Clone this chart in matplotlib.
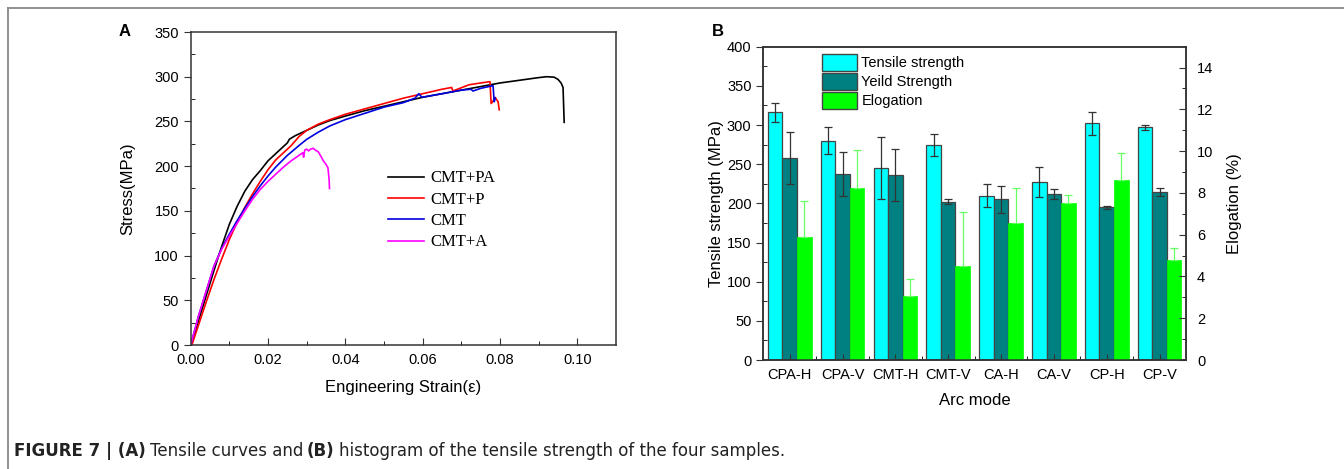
import matplotlib
matplotlib.use('Agg')
import matplotlib.pyplot as plt
from matplotlib.lines import Line2D
from matplotlib.patches import Patch
import numpy as np

plt.rcParams['font.family'] = ['Liberation Sans', 'DejaVu Sans']

# (A) tensile curves
pa_x = [0.0, 0.002, 0.004, 0.006, 0.008, 0.010, 0.012, 0.014, 0.016, 0.018, 0.020, 0.022, 0.024,
        0.025, 0.0255, 0.027, 0.030, 0.033, 0.036, 0.040, 0.045, 0.050, 0.055, 0.060, 0.065,
        0.070, 0.075, 0.080, 0.085, 0.090, 0.092, 0.094, 0.095, 0.0958, 0.0963, 0.0966]
pa_y = [0, 27, 55, 83, 110, 135, 155, 172, 185, 195, 206, 214, 222,
        226, 230, 234, 240, 246, 251, 256, 262, 267, 272, 277, 281,
        285, 289, 293, 296, 299, 300, 299.5, 297, 293, 288, 249]
p_x = [0.0003, 0.002, 0.004, 0.006, 0.008, 0.010, 0.012, 0.014, 0.016, 0.018, 0.020, 0.022, 0.024,
       0.026, 0.028, 0.030, 0.033, 0.036, 0.040, 0.045, 0.050, 0.055, 0.060, 0.065, 0.0675,
       0.0678, 0.069, 0.072, 0.075, 0.0774, 0.0777, 0.0781, 0.0787, 0.0795, 0.0798]
p_y = [0, 22, 48, 73, 96, 118, 137, 154, 169, 183, 196, 207, 215,
       223, 233, 240, 247, 252, 258, 264, 270, 276, 281, 286, 288,
       284, 286, 291, 293, 294.5, 270, 272, 277, 272, 263]
c_x = [0.0, 0.002, 0.004, 0.006, 0.008, 0.010, 0.012, 0.014, 0.016, 0.018, 0.020, 0.022, 0.025,
       0.028, 0.030, 0.033, 0.036, 0.040, 0.045, 0.050, 0.055, 0.058, 0.059, 0.0598, 0.065,
       0.070, 0.0725, 0.073, 0.075, 0.0782, 0.0785, 0.0788]
c_y = [0, 32, 60, 88, 108, 124, 139, 153, 166, 178, 189, 199, 212,
       223, 230, 238, 245, 252, 259, 266, 271, 276, 281, 277, 281,
       285, 286, 284, 287, 290, 272, 276]
a_x = [0.0, 0.002, 0.004, 0.006, 0.008, 0.010, 0.012, 0.014, 0.016, 0.018, 0.020, 0.022, 0.024,
       0.026, 0.028, 0.029, 0.0292, 0.0295, 0.030, 0.0305, 0.031, 0.0317, 0.0322, 0.033, 0.0338,
       0.0343, 0.035, 0.0355, 0.0358, 0.0359]
a_y = [0, 32, 60, 88, 107, 122, 136, 150, 163, 174, 183, 191, 199,
       206, 212, 215, 210, 218, 219, 217, 219, 220, 218, 216, 210,
       206, 202, 198, 185, 175]
curves = [('CMT+PA', pa_x, pa_y, 'black'), ('CMT+P', p_x, p_y, 'red'),
          ('CMT', c_x, c_y, '#0000e0'), ('CMT+A', a_x, a_y, '#ff00ff')]

# (B) histogram
modes = ['CPA-H', 'CPA-V', 'CMT-H', 'CMT-V', 'CA-H', 'CA-V', 'CP-H', 'CP-V']
tensile = [316, 280, 245, 274, 210, 227, 302, 297]
tensile_err = [12, 17, 40, 14, 15, 19, 15, 3]
yield_s = [258, 238, 236, 202, 205, 212, 195, 214]
yield_err = [33, 28, 33, 3, 17, 6, 2, 5]
elong = [5.9, 8.25, 3.05, 4.5, 6.55, 7.5, 8.6, 4.8]
elong_err = [1.7, 1.8, 0.85, 2.6, 1.7, 0.4, 1.3, 0.58]

W, H = 1344, 469
fig = plt.figure(figsize=(W / 100, H / 100), dpi=100)

spine_c = '#333333'


def style(ax):
    for s in ax.spines.values():
        s.set_color(spine_c)
        s.set_linewidth(1.1)
    ax.tick_params(colors=spine_c, labelcolor='black', labelsize=10.5)


# ---- panel A
axA = fig.add_axes([190.7 / W, 1 - 345 / H, (616 - 190.7) / W, (345 - 32) / H])
for name, x, y, col in curves:
    axA.plot(x, y, color=col, lw=1.2, label=name)
axA.set_xlim(0, 0.11)
axA.set_ylim(0, 350)
axA.set_xticks(np.arange(0, 0.101, 0.02))
axA.set_xticklabels(['0.00', '0.02', '0.04', '0.06', '0.08', '0.10'])
axA.set_xticks(np.arange(0.01, 0.11, 0.02), minor=True)
axA.set_yticks(np.arange(0, 351, 50))
axA.set_yticks(np.arange(25, 350, 50), minor=True)
style(axA)
axA.tick_params(axis='x', which='both', direction='in')
axA.tick_params(axis='x', which='major', length=5, pad=6)
axA.tick_params(axis='x', which='minor', length=3)
axA.tick_params(axis='y', which='major', direction='out', length=5)
axA.tick_params(axis='y', which='minor', direction='in', length=3)
axA.set_xlabel('Engineering Strain(ε)', fontsize=12, labelpad=9)
axA.set_ylabel('Stress(MPa)', fontsize=12, labelpad=14)
axA.legend(loc='center left', bbox_to_anchor=(0.428, 0.43), frameon=False,
           prop={'family': 'Liberation Serif', 'size': 12}, handlelength=2.2,
           handletextpad=0.35, labelspacing=0.32)

# ---- panel B
axB = fig.add_axes([763.3 / W, 1 - 360 / H, (1186 - 763.3) / W, (360 - 46.7) / H])
axE = axB.twinx()
pos = np.arange(1, len(modes) + 1)
bw = 0.275
ekw = dict(ecolor='#333333', elinewidth=0.9, capsize=3, capthick=0.9)
axB.bar(pos - bw, tensile, bw, yerr=tensile_err, color='#00ffff', edgecolor='#444444',
        linewidth=0.9, error_kw=ekw, label='Tensile strength')
axB.bar(pos, yield_s, bw, yerr=yield_err, color='#008080', edgecolor='#444444',
        linewidth=0.9, error_kw=ekw, label='Yeild Strength')
axE.bar(pos + bw, elong, bw, yerr=[np.zeros(len(elong)), elong_err], color='#00ff00',
        edgecolor='#00ff00', linewidth=0.5,
        error_kw=dict(ecolor='#66ff66', elinewidth=0.9, capsize=3, capthick=0.9),
        label='Elogation')
axB.set_xlim(0.5, 8.5)
axB.set_ylim(0, 400)
axE.set_ylim(0, 15)
axB.set_xticks(pos)
axB.set_xticklabels(modes)
axB.set_xticks(pos[:-1] + 0.5, minor=True)
axB.set_yticks(np.arange(0, 401, 50))
axB.set_yticks(np.arange(25, 400, 50), minor=True)
axE.set_yticks(np.arange(0, 15, 2))
axE.set_yticks(np.arange(1, 15, 2), minor=True)
style(axB)
style(axE)
axB.tick_params(axis='x', which='both', direction='in', length=4, pad=6)
axB.tick_params(axis='x', which='minor', length=3)
axB.tick_params(axis='y', which='major', direction='out', length=5)
axB.tick_params(axis='y', which='minor', direction='in', length=3)
axE.tick_params(axis='y', which='major', direction='in', length=5, pad=8)
axE.tick_params(axis='y', which='minor', direction='in', length=3)
axB.set_xlabel('Arc mode', fontsize=12, labelpad=8)
axB.set_ylabel('Tensile strength (MPa)', fontsize=12, labelpad=2)
axE.set_ylabel('Elogation (%)', fontsize=12, labelpad=10)

handles = [Patch(facecolor='#00ffff', edgecolor='#444444'),
           Patch(facecolor='#008080', edgecolor='#444444'),
           Patch(facecolor='#00ff00', edgecolor='#444444')]
axB.legend(handles, ['Tensile strength', 'Yeild Strength', 'Elogation'], loc='upper left',
           bbox_to_anchor=(0.118, 1.005), frameon=False, fontsize=10.5, handlelength=2.4,
           handleheight=1.4, handletextpad=0.3, labelspacing=0.15, borderaxespad=0.2)

# panel letters and caption
fig.text(125 / W, 1 - 32 / H, 'A', fontsize=12, fontweight='bold', ha='center', va='center')
fig.text(718 / W, 1 - 32 / H, 'B', fontsize=12, fontweight='bold', ha='center', va='center')
cap_fam = ['DejaVu Sans']
cap_c = '#222222'
t = fig.text(14 / W, 1 - 456 / H, 'FIGURE 7 | (A)', fontsize=12, fontweight='bold',
             family=cap_fam, va='baseline', color=cap_c)
fig.canvas.draw()
r = fig.canvas.get_renderer()
bb = t.get_window_extent(r)
t2 = fig.text(bb.x1 / W + 4 / W, 1 - 456 / H, 'Tensile curves and', fontsize=12,
              family=cap_fam, va='baseline', color=cap_c)
bb = t2.get_window_extent(r)
t3 = fig.text(bb.x1 / W + 4 / W, 1 - 456 / H, '(B)', fontsize=12, fontweight='bold',
              family=cap_fam, va='baseline', color=cap_c)
bb = t3.get_window_extent(r)
fig.text(bb.x1 / W + 4 / W, 1 - 456 / H,
         'histogram of the tensile strength of the four samples.', fontsize=12,
         family=cap_fam, va='baseline', color=cap_c)

# frame lines round the figure
fig.add_artist(Line2D([8 / W, 8 / W], [0, 1 - 8 / H], color='#888888', lw=1.3))
fig.add_artist(Line2D([8 / W, 1], [1 - 8 / H, 1 - 8 / H], color='#888888', lw=1.3))

fig.savefig('out.png', dpi=100)
